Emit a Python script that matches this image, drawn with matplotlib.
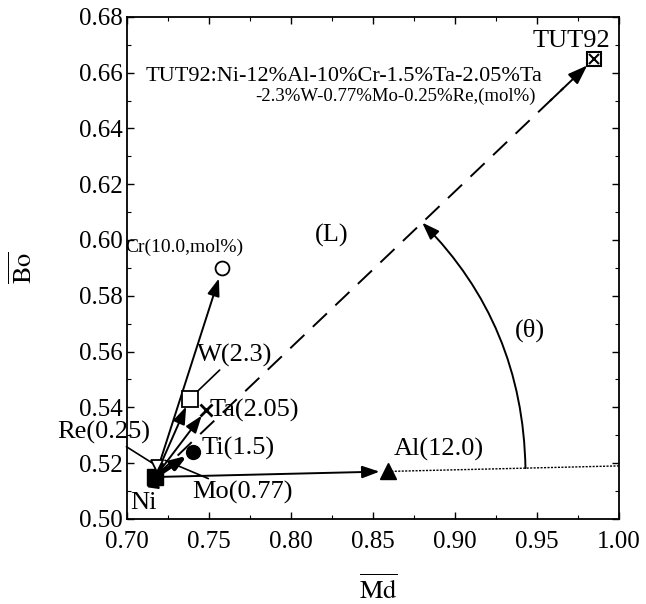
import numpy as np
import matplotlib
matplotlib.use('Agg')
import matplotlib.pyplot as plt
from matplotlib.ticker import MultipleLocator

plt.rcParams['font.family'] = ['Liberation Serif', 'DejaVu Serif']
plt.rcParams['mathtext.fontset'] = 'stix'

# values (Md, Bo)
elements = ['Ni', 'Al', 'Cr', 'Ti', 'Ta', 'W', 'Mo', 'Re', 'TUT92']
md = [0.717, 0.859, 0.758, 0.740, 0.748, 0.738, 0.723, 0.718, 0.985]
bo = [0.515, 0.517, 0.590, 0.524, 0.539, 0.543, 0.521, 0.519, 0.665]
labels = ['Ni', 'Al(12.0)', 'Cr(10.0,mol%)', 'Ti(1.5)', 'Ta(2.05)', 'W(2.3)',
          'Mo(0.77)', 'Re(0.25)', 'TUT92']
comp_line1 = 'TUT92:Ni-12%Al-10%Cr-1.5%Ta-2.05%Ta'
comp_line2 = '-2.3%W-0.77%Mo-0.25%Re,(mol%)'

x_ticks = [0.70, 0.75, 0.80, 0.85, 0.90, 0.95, 1.00]
y_ticks = [0.50, 0.52, 0.54, 0.56, 0.58, 0.60, 0.62, 0.64, 0.66, 0.68]

pt = {e: (x, y) for e, x, y in zip(elements, md, bo)}

fig = plt.figure(figsize=(6.46, 6.04), dpi=100)
ax = fig.add_axes([0.197, 0.141, 0.761, 0.831])
ax.set_xlim(0.70, 1.00)
ax.set_ylim(0.50, 0.68)

ni = np.array(pt['Ni'])
tut = np.array(pt['TUT92'])
al = np.array(pt['Al'])

# Ni -> element vectors
arrow_kw = dict(arrowstyle='-|>,head_length=0.7,head_width=0.25', color='k', lw=1.4,
                shrinkA=0, mutation_scale=15)
for e, sb in [('Cr', 8), ('W', 6), ('Ta', 5), ('Mo', 1), ('Re', 3), ('Al', 6)]:
    ax.annotate('', xy=pt[e], xytext=pt['Ni'], arrowprops=dict(arrow_kw, shrinkB=sb))
ax.annotate('', xy=pt['Ti'], xytext=pt['Ni'],
            arrowprops=dict(arrow_kw, lw=3, shrinkB=5, mutation_scale=12))

# extension of Al vector (dotted)
slope = (al[1] - ni[1]) / (al[0] - ni[0])
ax.plot([al[0], 1.0], [al[1], al[1] + slope * (1.0 - al[0])], color='k', lw=1,
        linestyle=(0, (1.5, 1)))

# Ni -> TUT92 dashed vector
d = tut - ni
ax.plot([ni[0], ni[0] + 0.93 * d[0]], [ni[1], ni[1] + 0.93 * d[1]], color='k', lw=1.4,
        linestyle=(0, (10, 6)))
ax.annotate('', xy=tut, xytext=ni + 0.9 * d,
            arrowprops=dict(arrow_kw, shrinkB=7, mutation_scale=17))

# angle arc (theta)
ax.annotate('', xy=(0.880, ni[1] + d[1] / d[0] * (0.880 - ni[0])),
            xytext=(0.943, al[1] + slope * (0.943 - al[0])),
            arrowprops=dict(arrowstyle='-|>,head_length=0.7,head_width=0.25', color='k',
                            lw=1.4, shrinkA=0, shrinkB=0, mutation_scale=15,
                            connectionstyle='arc3,rad=0.2'))

# markers
ax.plot(*pt['Ni'], marker='s', ms=11, color='k', zorder=5)
ax.plot(*pt['Al'], marker='^', ms=11, color='k', zorder=5)
ax.plot(*pt['Cr'], marker='o', ms=10, mfc='white', mec='k', mew=1.3, zorder=5)
ax.plot(*pt['Ti'], marker='o', ms=10, color='k', zorder=5)
ax.plot(*pt['Ta'], marker='x', ms=9, mew=2, color='k', zorder=5)
ax.plot(*pt['W'], marker='s', ms=12, mfc='white', mec='k', mew=1.3, zorder=5)
ax.plot(*pt['Re'], marker='v', ms=9, mfc='white', mec='k', mew=1.3, zorder=5)
ax.plot(*pt['TUT92'], marker='s', ms=10, mfc='white', mec='k', mew=1.5, zorder=5)
ax.plot(*pt['TUT92'], marker='x', ms=7, mew=1.5, color='k', zorder=6)

fs = 19
lead = dict(arrowstyle='-', color='k', lw=1.2, shrinkA=0, shrinkB=4)
ax.text(pt['Cr'][0] + 0.013, pt['Cr'][1] + 0.0075, labels[2], fontsize=14,
        ha='right', va='center')
ax.annotate(labels[5], xy=pt['W'], xytext=(0.7425, 0.5585), fontsize=fs,
            ha='left', va='center', arrowprops=lead)
ax.text(0.7505, 0.539, labels[4], fontsize=fs, ha='left', va='center')
ax.text(0.7455, 0.5252, labels[3], fontsize=fs, ha='left', va='center')
ax.text(0.890, 0.5248, labels[1], fontsize=fs, ha='center', va='center')
ax.annotate(labels[7], xy=pt['Re'], xytext=(0.714, 0.531), fontsize=fs,
            ha='right', va='center', arrowprops=lead)
ax.annotate(labels[6], xy=pt['Mo'], xytext=(0.7395, 0.5093), fontsize=fs,
            ha='left', va='center', arrowprops=dict(lead, shrinkB=0))
ax.text(0.702, 0.5057, labels[0], fontsize=fs, ha='left', va='center')
ax.text(0.995, 0.6715, labels[8], fontsize=fs, ha='right', va='center')
ax.text(0.711, 0.6585, comp_line1, fontsize=16, ha='left', va='center')
ax.text(0.949, 0.6515, comp_line2, fontsize=13.5, ha='right', va='center')
ax.text(0.825, 0.6015, '(L)', fontsize=fs, ha='center', va='center')
ax.text(0.946, 0.5675, '(θ)', fontsize=fs, ha='center', va='center')

ax.set_xticks(x_ticks)
ax.set_yticks(y_ticks)
ax.set_xticklabels(['%.2f' % v for v in x_ticks])
ax.set_yticklabels(['%.2f' % v for v in y_ticks])
ax.xaxis.set_minor_locator(MultipleLocator(0.025))
ax.yaxis.set_minor_locator(MultipleLocator(0.01))
ax.tick_params(which='both', direction='in', top=True, right=True, labelsize=18)
ax.tick_params(which='major', length=5, width=1)
ax.tick_params(which='minor', length=3, width=0.8)
ax.tick_params(axis='x', pad=9)
for s in ax.spines.values():
    s.set_linewidth(1.3)

ax.set_xlabel(r'$\overline{\mathrm{Md}}$', fontsize=19)
ax.set_ylabel(r'$\overline{\mathrm{Bo}}$', fontsize=19)
ax.xaxis.set_label_coords(0.51, -0.11)
ax.yaxis.set_label_coords(-0.183, 0.5)

fig.savefig('out.png', dpi=100)
